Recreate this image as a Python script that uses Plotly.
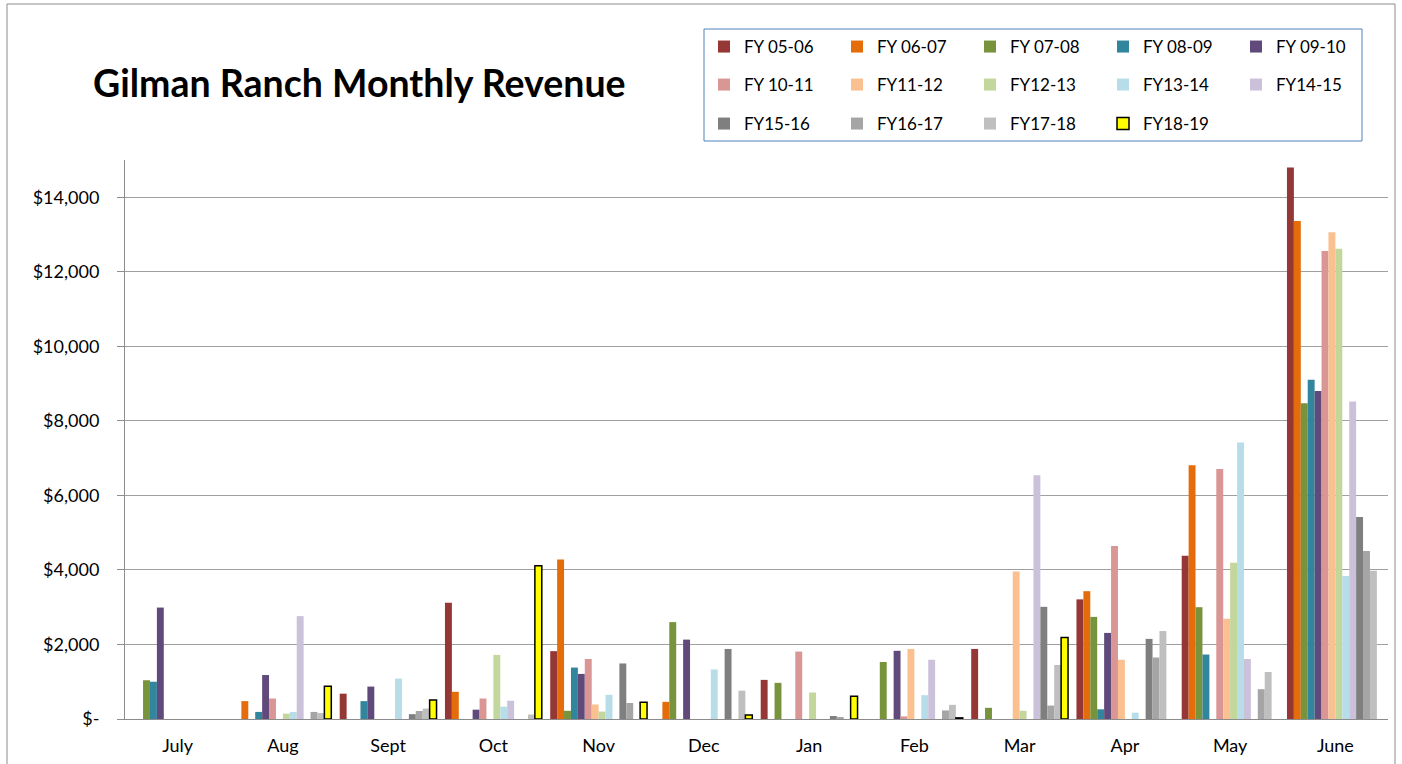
import plotly.graph_objects as go

months = ["July", "Aug", "Sept", "Oct", "Nov", "Dec", "Jan", "Feb", "Mar", "Apr", "May", "June"]

fy05_06 = [0, 0, 680, 3120, 1820, 0, 1050, 0, 1880, 3210, 4380, 14800]
fy06_07 = [0, 480, 0, 730, 4280, 460, 0, 0, 0, 3430, 6810, 13360]
fy07_08 = [1040, 0, 0, 0, 220, 2600, 970, 1530, 300, 2740, 3000, 8470]
fy08_09 = [1000, 190, 480, 0, 1380, 0, 0, 0, 0, 260, 1730, 9100]
fy09_10 = [2990, 1180, 870, 250, 1210, 2130, 0, 1830, 0, 2310, 0, 8800]
fy10_11 = [0, 550, 0, 550, 1610, 0, 1810, 70, 0, 4640, 6710, 12560]
fy11_12 = [0, 0, 0, 0, 390, 0, 0, 1880, 3960, 1590, 2690, 13060]
fy12_13 = [0, 145, 0, 1720, 200, 0, 710, 0, 220, 0, 4190, 12620]
fy13_14 = [0, 190, 1085, 330, 650, 1330, 0, 640, 0, 170, 7420, 3840]
fy14_15 = [0, 2760, 0, 490, 0, 0, 0, 1590, 6540, 0, 1610, 8520]
fy15_16 = [0, 0, 130, 0, 1490, 1880, 80, 0, 3010, 2150, 0, 5420]
fy16_17 = [0, 190, 215, 0, 430, 0, 40, 230, 360, 1650, 800, 4510]
fy17_18 = [0, 160, 280, 120, 0, 760, 0, 380, 1450, 2360, 1260, 3980]
fy18_19 = [None, 880, 510, 4110, 450, 110, 610, 30, 2190, None, None, None]

series_names = ["FY 05-06", "FY 06-07", "FY 07-08", "FY 08-09", "FY 09-10",
                "FY 10-11", "FY11-12", "FY12-13", "FY13-14", "FY14-15",
                "FY15-16", "FY16-17", "FY17-18", "FY18-19"]
series_values = [fy05_06, fy06_07, fy07_08, fy08_09, fy09_10, fy10_11, fy11_12,
                 fy12_13, fy13_14, fy14_15, fy15_16, fy16_17, fy17_18, fy18_19]
series_colors = ["#953735", "#e46c0a", "#77933c", "#31859c", "#604a7b",
                 "#d99694", "#fac090", "#c3d69b", "#b7dee8", "#ccc1da",
                 "#7f7f7f", "#a5a5a5", "#bfbfbf", "#ffff00"]

y_tick_vals = [0, 2000, 4000, 6000, 8000, 10000, 12000, 14000]
y_tick_text = ["$-", "$2,000", "$4,000", "$6,000", "$8,000", "$10,000", "$12,000", "$14,000"]

W, H = 1402, 764
L, R, T, B = 125, 14, 160, 45
pw, ph = W - L - R, H - T - B

def px_x(x):
    return (x - L) / pw

def px_y(y):
    return (H - B - y) / ph

FONT = "Lato, 'Open Sans', sans-serif"

fig = go.Figure()
legend_ids = ["legend", "legend2", "legend3"]
for i, (name, vals, col) in enumerate(zip(series_names, series_values, series_colors)):
    is_last = (i == len(series_names) - 1)
    fig.add_trace(go.Bar(
        x=months, y=vals, name=name,
        marker=dict(color=col,
                    line=dict(color="#000000" if is_last else col, width=1.5 if is_last else 0)),
        legend=legend_ids[i // 5],
    ))

leg_common = dict(orientation="h", xanchor="left", yanchor="middle",
                  bgcolor="rgba(0,0,0,0)", borderwidth=0,
                  font=dict(family=FONT, size=17, color="#000000"),
                  entrywidth=88, entrywidthmode="pixels", itemwidth=30,
                  traceorder="normal")
row_y = [47, 85, 124]
leg_x = px_x(704)

fig.update_layout(
    width=W, height=H,
    margin=dict(l=L, r=R, t=T, b=B, pad=0),
    paper_bgcolor="white", plot_bgcolor="white",
    barmode="group", bargap=0.08, bargroupgap=0,
    title=dict(text="<b>Gilman Ranch Monthly Revenue</b>",
               font=dict(family=FONT, size=37.5, color="#000000"),
               xref="container", yref="container",
               x=93 / W, xanchor="left", y=1 - 84 / H, yanchor="middle"),
    legend=dict(**leg_common, x=leg_x, y=px_y(row_y[0])),
    legend2=dict(**leg_common, x=leg_x, y=px_y(row_y[1])),
    legend3=dict(**leg_common, x=leg_x, y=px_y(row_y[2])),
    xaxis=dict(showline=True, linecolor="#8c8c8c", linewidth=1,
               ticks="", tickfont=dict(family=FONT, size=18, color="#000000"),
               ticklabelstandoff=10, showgrid=False, fixedrange=True,
               automargin=False),
    yaxis=dict(range=[0, 15000], tickvals=y_tick_vals, ticktext=y_tick_text,
               showline=True, linecolor="#8c8c8c", linewidth=1,
               ticks="outside", ticklen=7, tickcolor="#8c8c8c",
               tickfont=dict(family=FONT, size=18, color="#000000"),
               ticklabelstandoff=14, automargin=False,
               showgrid=True, gridcolor="#a0a0a0", gridwidth=1,
               zeroline=False, fixedrange=True),
    shapes=[
        dict(type="rect", xref="paper", yref="paper",
             x0=px_x(704), x1=px_x(1362), y0=px_y(141), y1=px_y(29),
             line=dict(color="#4f81bd", width=1), fillcolor="rgba(0,0,0,0)"),
        dict(type="rect", xref="paper", yref="paper",
             x0=px_x(7), x1=px_x(1395), y0=px_y(790), y1=px_y(4),
             line=dict(color="#8c8c8c", width=1), fillcolor="rgba(0,0,0,0)"),
    ],
    showlegend=True,
)

fig.write_html(
    "out.html",
    config={"displayModeBar": False},
    post_script="document.body.style.margin='0';document.body.style.overflow='hidden';",
)
